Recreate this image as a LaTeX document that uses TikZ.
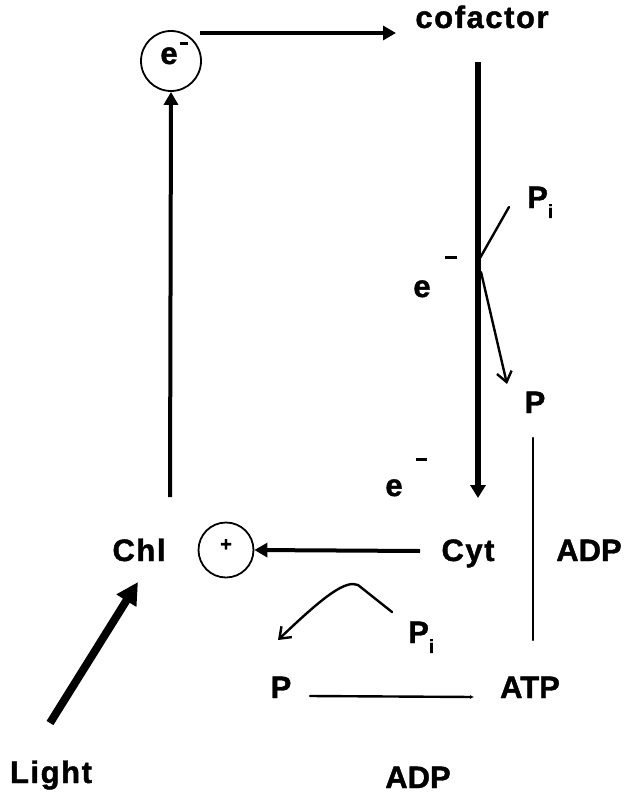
\documentclass[tikz,border=0pt]{standalone}
\usepackage{fontspec}
\setmainfont{Liberation Sans}[BoldFeatures={FakeBold=1.3}]
\usetikzlibrary{arrows.meta}

% phosphate label: P with subscript i
\newcommand{\phosi}{P\raisebox{-0.32em}{\fontsize{19}{19}\selectfont i}}
% detached minus sign
\newcommand{\minusbar}[1]{\rule{#1}{3pt}}

\tikzset{
  lbl/.style={font=\fontsize{31}{33}\selectfont\bfseries, inner sep=0pt, anchor=base},
  widelbl/.style={lbl, font=\fontsize{31}{33}\selectfont\bfseries\addfontfeatures{LetterSpace=5}},
  ring/.style={circle, draw, line width=1.8pt, inner sep=0pt},
  heavy/.style={line width=4pt, -{Triangle[length=13pt,width=14pt]}},
  heavier/.style={line width=5.5pt, -{Triangle[length=13pt,width=15pt]}},
  lightray/.style={line width=8pt, -{Triangle[length=22pt,width=22pt]}},
  thinline/.style={line width=2.4pt, line cap=round},
  barb/.style={thinline, -{Straight Barb[length=10pt,width=15pt,line width=2.4pt]}},
  dotend/.style={thinline, -{Latex[length=4pt,width=4pt]}},
}

\begin{document}
\begin{tikzpicture}[x=1pt,y=-1pt]
\useasboundingbox (0,0) rectangle (625,794);

% ---- labels ----
\node[widelbl] (cof)  at (482,28)  {cofactor};
\node[widelbl] (chl)  at (139,561) {Chl};
\node[widelbl] (cyt)  at (468,561) {Cyt};
\node[lbl]     (adpR) at (589,561) {ADP};
\node[lbl]     (pR)   at (535,413) {P};
\node[lbl, anchor=base west] (piT) at (527,208) {\phosi};
\node[lbl, anchor=base west] (piB) at (408,643) {\phosi};
\node[lbl]     (pB)   at (281,698) {P};
\node[lbl]     (atp)  at (530,698) {ATP};
\node[lbl]     (adpB) at (418,788) {ADP};
\node[widelbl] (light) at (51,783) {Light};

% electrons on the cofactor-to-cytochrome path
\node[lbl] (e1) at (422,297) {e};
\node[inner sep=0pt] (m1) at (451,257) {\minusbar{12pt}};
\node[lbl] (e2) at (394,496) {e};
\node[inner sep=0pt] (m2) at (421,459) {\minusbar{11pt}};

% excited electron and the hole left in chlorophyll
\node[ring, minimum size=60pt] (ecirc) at (171,61) {};
\node[lbl] (ein) at (169,64) {e};
\node[inner sep=0pt] (ein-m) at (184,44) {\minusbar{8pt}};
\node[ring, minimum size=55pt] (pcirc) at (226,550) {};
\node[inner sep=0pt, font=\fontsize{20}{20}\selectfont\bfseries] (plus) at (226,545) {+};

% ---- connector end points ----
\coordinate (upA)  at (170,497);
\coordinate (topA) at (200,33);
\coordinate (topB) at (396,33);
\coordinate (vA)   at (478,62);
\coordinate (vB)   at (478,498);
\coordinate (jPi)  at (480,258);
\coordinate (piEnd) at (509,207);
\coordinate (jP)   at (481,272);
\coordinate (pTip) at (507,384);
\coordinate (cytA) at (420,551);
\coordinate (rA)   at (533,438);
\coordinate (rB)   at (533,640);
\coordinate (cA)   at (392,612);
\coordinate (cK)   at (358,585);
\coordinate (cTip) at (278,640);
\coordinate (hA)   at (310,696);
\coordinate (hB)   at (474,697);
\coordinate (lA)   at (50,723);
\coordinate (lB)   at (138,582);

% ---- connectors ----
\draw[heavy] (upA) -- (ecirc.south);
\draw[heavy] (topA) -- (topB);
\draw[heavier] (vA) -- (vB);
\draw[thinline] (jPi) -- (piEnd);
\draw[barb] (jP) -- (pTip);
\draw[heavy] (cytA) -- (pcirc.east);
\draw[thinline] (rA) -- (rB);
\draw[barb] (cA) -- (cK) .. controls (346,580) and (326,594) .. (cTip);
\draw[dotend] (hA) -- (hB);
\draw[lightray] (lA) -- (lB);
\end{tikzpicture}
\end{document}
